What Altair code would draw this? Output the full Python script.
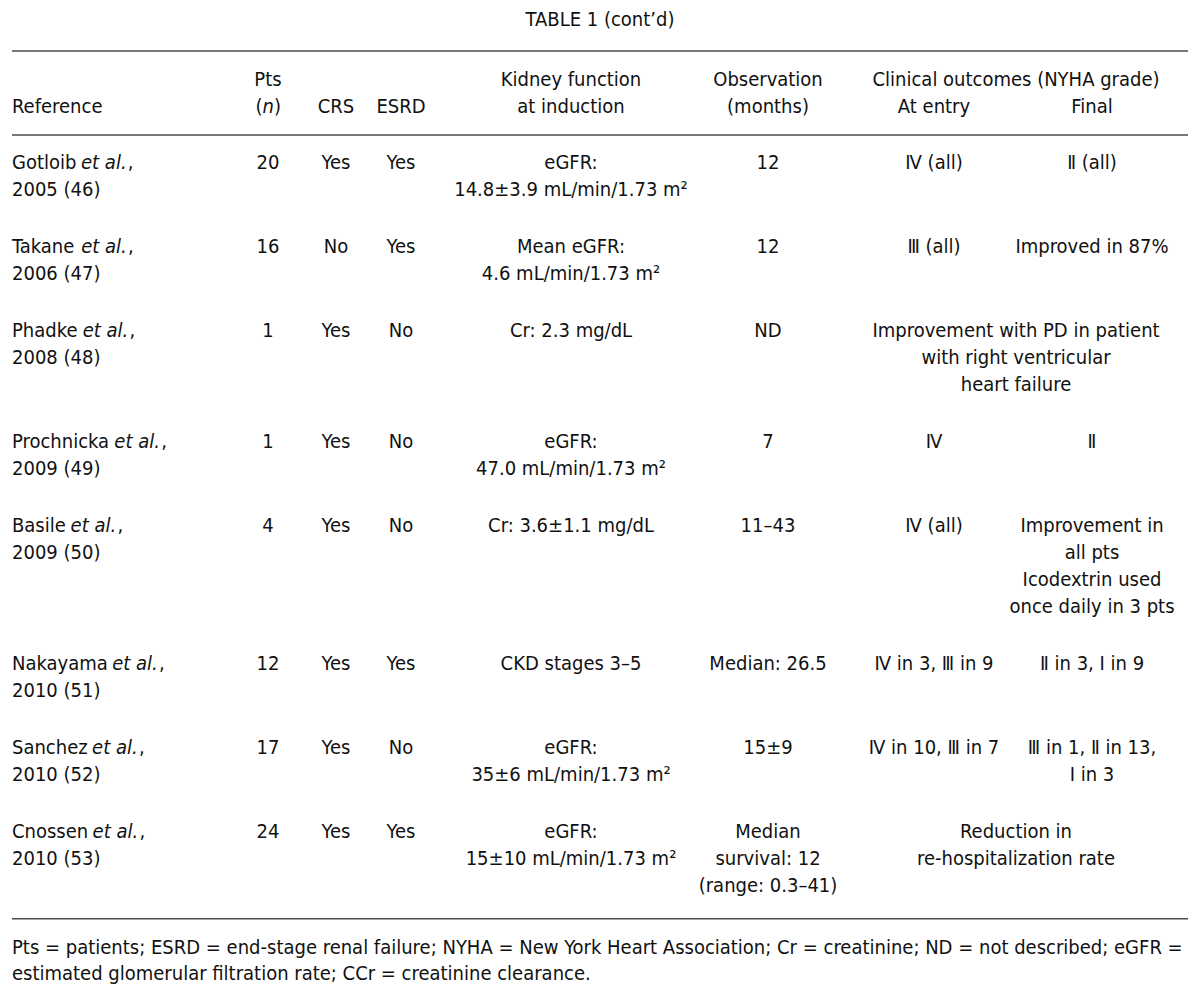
import altair as alt
import pandas as pd

# ---------------- data ----------------
title = "TABLE 1 (cont\u2019d)"
authors = ["Gotloib", "Takane", "Phadke", "Prochnicka", "Basile", "Nakayama", "Sanchez", "Cnossen"]
years = ["2005 (46)", "2006 (47)", "2008 (48)", "2009 (49)", "2009 (50)", "2010 (51)", "2010 (52)", "2010 (53)"]
pts = ["20", "16", "1", "1", "4", "12", "17", "24"]
crs = ["Yes", "No", "Yes", "Yes", "Yes", "Yes", "Yes", "Yes"]
esrd = ["Yes", "Yes", "No", "No", "No", "Yes", "No", "Yes"]
kidney = [
    ["eGFR:", "14.8\u00b13.9 mL/min/1.73 m\u00b2"],
    ["Mean eGFR:", "4.6 mL/min/1.73 m\u00b2"],
    ["Cr: 2.3 mg/dL"],
    ["eGFR:", "47.0 mL/min/1.73 m\u00b2"],
    ["Cr: 3.6\u00b11.1 mg/dL"],
    ["CKD stages 3\u20135"],
    ["eGFR:", "35\u00b16 mL/min/1.73 m\u00b2"],
    ["eGFR:", "15\u00b110 mL/min/1.73 m\u00b2"],
]
observation = [
    ["12"], ["12"], ["ND"], ["7"], ["11\u201343"], ["Median: 26.5"], ["15\u00b19"],
    ["Median", "survival: 12", "(range: 0.3\u201341)"],
]
at_entry = [
    ["\u2163 (all)"], ["\u2162 (all)"], [], ["\u2163"], ["\u2163 (all)"],
    ["\u2163 in 3, \u2162 in 9"], ["\u2163 in 10, \u2162 in 7"], [],
]
final = [
    ["\u2161 (all)"], ["Improved in 87%"], [], ["\u2161"],
    ["Improvement in", "all pts", "Icodextrin used", "once daily in 3 pts"],
    ["\u2161 in 3, \u2160 in 9"], ["\u2162 in 1, \u2161 in 13,", "\u2160 in 3"], [],
]
outcome_span = [
    [], [], ["Improvement with PD in patient", "with right ventricular", "heart failure"],
    [], [], [], [], ["Reduction in", "re-hospitalization rate"],
]
footnote = [
    "Pts = patients; ESRD = end-stage renal failure; NYHA = New York Heart Association; Cr = creatinine; ND = not described; eGFR =",
    "estimated glomerular filtration rate; CCr = creatinine clearance.",
]

# ---------------- layout / style ----------------
FONT = "DejaVu Sans Condensed"
FS = 20
TXT = "#111111"
RULE = "#4d4d4d"
LH = 26.8
GAP = 30.5
ROW0 = 163
LEFT = 12
RIGHT = 1188
COLX = {"title": 600, "pts": 268, "crs": 336, "esrd": 401, "kid": 571, "obs": 768,
        "entry": 934, "final": 1092, "span": 1016, "clin": 1016}

# approximate advance widths (DejaVu Sans units / 2048), condensed factor
ADV = {' ': 651, ',': 651, '.': 651, '(': 799, ')': 799, 'a': 1255, 'b': 1300, 'c': 1126,
       'd': 1300, 'e': 1260, 'h': 1298, 'i': 569, 'k': 1186, 'l': 569, 'm': 1995, 'n': 1298,
       'o': 1253, 'r': 842, 's': 1067, 't': 803, 'y': 1212, 'z': 1075, 'B': 1405, 'C': 1430,
       'G': 1589, 'N': 1532, 'P': 1235, 'S': 1300, 'T': 1100}


def tw(s, fs=FS):
    return sum(ADV.get(c, 1200) for c in s) * 0.885 * fs / 2048


center, left, italic = [], [], []


def add(lst, x, y, t, size=FS):
    lst.append({"x": x, "y": y, "text": t, "size": size})


# title
add(center, COLX["title"], 20, title)
# header
H1, H2 = 80, 107
add(left, LEFT, H2, "Reference")
add(center, COLX["pts"], H1, "Pts")
nw = tw("(") + tw("n") + tw(")")
x0 = COLX["pts"] - nw / 2
add(left, x0, H2, "(")
add(italic, x0 + tw("("), H2, "n")
add(left, x0 + tw("(") + tw("n") + 0.5, H2, ")")
add(center, COLX["crs"], H2, "CRS")
add(center, COLX["esrd"], H2, "ESRD")
add(center, COLX["kid"], H1, "Kidney function")
add(center, COLX["kid"], H2, "at induction")
add(center, COLX["obs"], H1, "Observation")
add(center, COLX["obs"], H2, "(months)")
add(center, COLX["clin"], H1, "Clinical outcomes (NYHA grade)")
add(center, COLX["entry"], H2, "At entry")
add(center, COLX["final"], H2, "Final")

# body
y = ROW0
last_line = y
for i in range(len(authors)):
    nlines = max(2, len(kidney[i]), len(observation[i]), len(at_entry[i]),
                 len(final[i]), len(outcome_span[i]))
    name = authors[i] + " "
    add(left, LEFT, y, name)
    xe = LEFT + tw(name)
    add(italic, xe, y, "et al.")
    add(left, xe + tw("et al.") + 2, y, ",")
    add(left, LEFT, y + LH, years[i])
    add(center, COLX["pts"], y, pts[i])
    add(center, COLX["crs"], y, crs[i])
    add(center, COLX["esrd"], y, esrd[i])
    for key, col in (("kid", kidney[i]), ("obs", observation[i]), ("entry", at_entry[i]),
                     ("final", final[i]), ("span", outcome_span[i])):
        for j, t in enumerate(col):
            add(center, COLX[key], y + j * LH, t)
    last_line = y + (nlines - 1) * LH
    y += nlines * LH + GAP

BOTTOM = last_line + 33
rules = pd.DataFrame({"x": [LEFT] * 3, "x2": [RIGHT] * 3, "y": [51, 135, BOTTOM]})
for j, t in enumerate(footnote):
    add(left, LEFT, BOTTOM + 29 + j * 26, t, 20)

X = alt.X("x:Q", scale=alt.Scale(domain=[8, 1192], range=[0, 1184], nice=False, zero=False), axis=None)
Y = alt.Y("y:Q", scale=alt.Scale(domain=[8, 986], range=[0, 978], nice=False, zero=False), axis=None)
S = alt.Size("size:Q", scale=None)


def layer(rows, align, style="normal"):
    return alt.Chart(pd.DataFrame(rows)).mark_text(
        font=FONT, align=align, baseline="middle", color=TXT, fontStyle=style
    ).encode(x=X, y=Y, text="text:N", size=S)


rule_layer = alt.Chart(rules).mark_rule(color=RULE, strokeWidth=1.6).encode(x=X, x2="x2:Q", y=Y)

chart = alt.layer(
    rule_layer,
    layer(center, "center"),
    layer(left, "left"),
    layer(italic, "left", "italic"),
).properties(width=1184, height=978, padding=0, autosize="none", background="white"
).configure_view(stroke=None)

chart.save("out.html", embed_options={"renderer": "svg", "actions": False})
